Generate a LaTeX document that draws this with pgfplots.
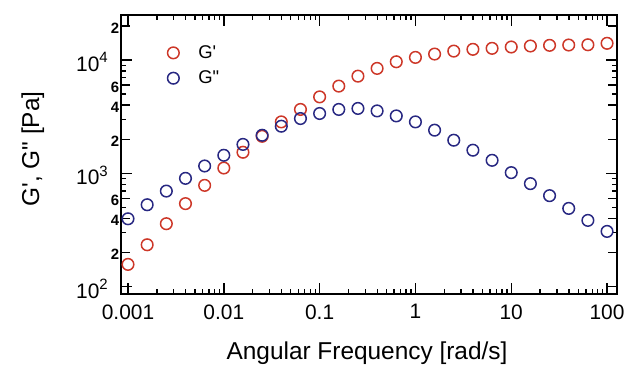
\documentclass[border=0pt]{standalone}
\usepackage{fontspec}
\setmainfont{Liberation Sans}
\usepackage{pgfplots}
\pgfplotsset{compat=1.18}
\definecolor{gred}{RGB}{205,55,40}
\definecolor{gblue}{RGB}{40,40,130}
\newcommand\tickfont{\fontsize{21}{24}\selectfont}
\newcommand\smalltickfont{\fontsize{15}{17}\selectfont\bfseries}
\newcommand\labfont{\fontsize{24.5}{28}\selectfont}
\newcommand\dec[1]{10\raisebox{0.42em}{\fontsize{15}{15}\selectfont #1}\kern12bp}
\begin{document}
\begin{tikzpicture}
\useasboundingbox (-121bp,-74bp) rectangle (507bp,294bp);
\begin{axis}[
  at={(0,0)}, anchor=south west,
  scale only axis, width=496bp, height=279bp,
  xmode=log, ymode=log,
  xmin=0.000845, xmax=127, ymin=86, ymax=25000,
  axis line style={line width=2bp},
  every tick/.style={black, line width=1.4bp},
  major tick length=11.5bp, minor tick length=5.5bp,
  xtick={0.001,0.01,0.1,1,10,100},
  xticklabels={0.001,0.01,0.1,1,10,100},
  xticklabel style={font=\tickfont, yshift=-7bp},
  ytick={100,1000,10000},
  yticklabels={\dec{2},\dec{3},\dec{4}},
  yticklabel style={font=\tickfont, inner xsep=1bp, yshift=-2bp},
  minor ytick={300,500,700,800,900,3000,5000,7000,8000,9000},
  extra y ticks={200,400,600,2000,4000,6000,20000},
  extra y tick labels={2,4,6,2,4,6,2},
  extra y tick style={major tick length=9bp, yticklabel style={font=\smalltickfont, inner xsep=1.5bp, yshift=0bp}},
  xlabel={Angular Frequency [rad/s]},
  ylabel={G\textquotesingle, G\textquotedbl{} [Pa]},
  xlabel style={font=\labfont, at={(axis description cs:0.496,-0.233)}, anchor=base},
  ylabel style={font=\labfont, at={(axis description cs:-0.165,0.52)}, anchor=base},
  legend style={at={(axis description cs:0.085,0.905)}, anchor=north west, draw=none, fill=none,
    font=\fontsize{18.5}{22}\selectfont, row sep=7bp},
  legend cell align=left,
  legend image code/.code={\path[draw=none,fill=none] (0bp,-5bp) rectangle (30bp,5bp);
    \draw[mark repeat=2,mark phase=2,#1] plot coordinates {(0bp,0bp)(7bp,0bp)(30bp,0bp)};},
  clip=false,
]
\addplot[only marks, mark=o, mark size=5.8bp, color=gred, mark options={line width=1.5bp}] coordinates {
(0.001,157) (0.001585,234) (0.002512,359) (0.003981,540) (0.00631,783)
(0.01,1114) (0.01585,1535) (0.02512,2123) (0.03981,2845) (0.0631,3664)
(0.1,4730) (0.1585,5890) (0.2512,7210) (0.3981,8440) (0.631,9660)
(1,10560) (1.585,11300) (2.512,12000) (3.981,12440) (6.31,12690)
(10,13040) (15.85,13310) (25.12,13490) (39.81,13580) (63.1,13650) (100,14060)
};
\addlegendentry{G\textquotesingle}
\addplot[only marks, mark=o, mark size=5.8bp, color=gblue, mark options={line width=1.5bp}] coordinates {
(0.001,397) (0.001585,528) (0.002512,697) (0.003981,903) (0.00631,1161)
(0.01,1443) (0.01585,1800) (0.02512,2168) (0.03981,2606) (0.0631,3046)
(0.1,3375) (0.1585,3665) (0.2512,3740) (0.3981,3556) (0.631,3213)
(1,2845) (1.585,2404) (2.512,1960) (3.981,1600) (6.31,1303)
(10,1014) (15.85,811) (25.12,635) (39.81,490) (63.1,384) (100,307)
};
\addlegendentry{G\textquotedbl}
\end{axis}
\end{tikzpicture}
\end{document}
